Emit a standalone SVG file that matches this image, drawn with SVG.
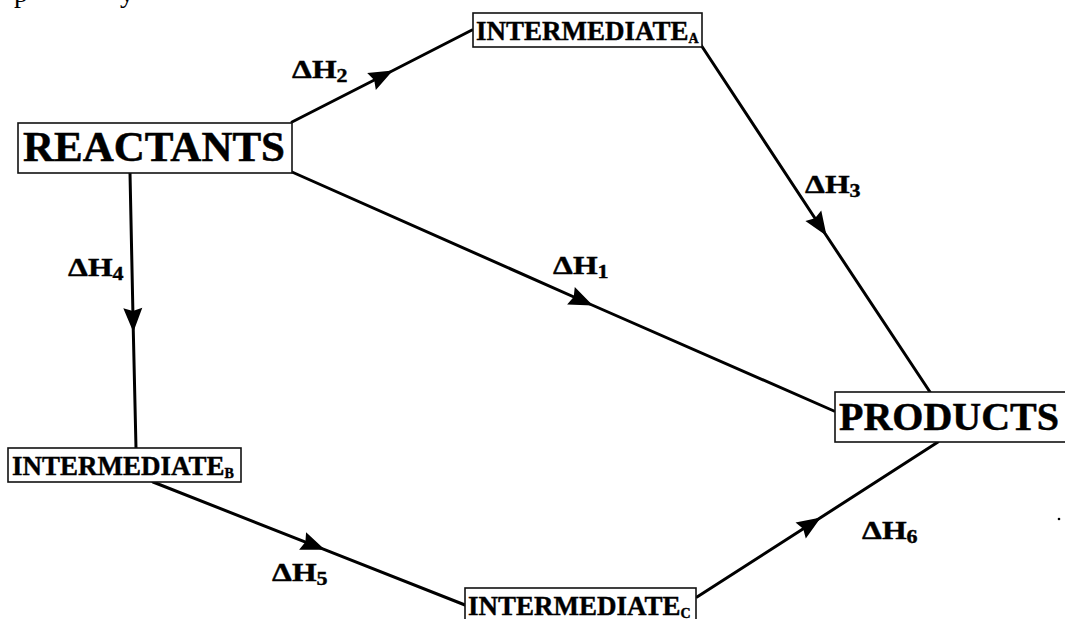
<svg xmlns="http://www.w3.org/2000/svg" width="1065" height="619" viewBox="0 0 1065 619">
  <style>
    .box { fill: #ffffff; stroke: #111111; stroke-width: 1.6; }
    .big { font-family: "Liberation Serif", "Times New Roman", serif; font-weight: bold; font-size: 43px; fill: #000000; stroke: #000000; stroke-width: 0.5; }
    .mid { font-family: "Liberation Serif", "Times New Roman", serif; font-weight: bold; font-size: 27px; fill: #000000; stroke: #000000; stroke-width: 0.4; }
    .sub { font-size: 14px; }
    .dh { font-family: "Liberation Serif", "Times New Roman", serif; font-weight: bold; font-size: 26px; fill: #000000; stroke: #000000; stroke-width: 0.4; }
    .dhsub { font-size: 18px; }
    .frag { font-family: "Liberation Serif", "Times New Roman", serif; font-size: 28px; fill: #000000; }
    .edge { fill: none; stroke: #000000; stroke-width: 3; stroke-linecap: round; marker-mid: url(#head); }
  </style>
  <defs>
    <marker id="head" markerUnits="userSpaceOnUse" viewBox="-25 -11 27 22" refX="0" refY="0" markerWidth="27" markerHeight="22" orient="auto">
      <path d="M1,0 L-23,-9.5 L-20,0 L-23,9.5 Z" fill="#000000"/>
    </marker>
  </defs>

  <rect width="1065" height="619" fill="#ffffff"/>

  <!-- descenders of the cut-off line at the top edge -->
  <text class="frag" x="14" y="2">p</text>
  <text class="frag" x="120" y="2">y</text>
  <circle cx="1059" cy="519" r="1.3" fill="#000000"/>

  <!-- connectors: each path runs through its arrowhead tip -->
  <g id="connectors">
    <path id="e-dh2" class="edge" d="M292,122 L392,71 L472,30"/>
    <path id="e-dh3" class="edge" d="M701,45 L826,235 L930,392"/>
    <path id="e-dh1" class="edge" d="M292,172 L592,305 L834,411"/>
    <path id="e-dh4" class="edge" d="M130,173 L133.3,331 L136,448"/>
    <path id="e-dh5" class="edge" d="M153,482 L324,549.4 L465,605"/>
    <path id="e-dh6" class="edge" d="M697,597 L820,518 L938,442"/>
  </g>

  <!-- enthalpy labels, widened horizontally -->
  <g id="labels">
    <text class="dh" transform="translate(292,78) scale(1.22,1)">ΔH<tspan class="dhsub" dy="4">2</tspan></text>
    <text class="dh" transform="translate(805,193) scale(1.22,1)">ΔH<tspan class="dhsub" dy="4">3</tspan></text>
    <text class="dh" transform="translate(553,274) scale(1.22,1)">ΔH<tspan class="dhsub" dy="4">1</tspan></text>
    <text class="dh" transform="translate(68,276) scale(1.22,1)">ΔH<tspan class="dhsub" dy="4">4</tspan></text>
    <text class="dh" transform="translate(272,581) scale(1.22,1)">ΔH<tspan class="dhsub" dy="4">5</tspan></text>
    <text class="dh" transform="translate(862,539) scale(1.22,1)">ΔH<tspan class="dhsub" dy="4">6</tspan></text>
  </g>

  <g id="reactants">
    <rect class="box" x="18" y="123" width="274" height="50"/>
    <text class="big" x="23" y="161">REACTANTS</text>
  </g>

  <g id="intermediate-a">
    <rect class="box" x="473" y="13" width="229" height="34"/>
    <text class="mid" x="476" y="40">INTERMEDIATE<tspan class="sub" dy="3">A</tspan></text>
  </g>

  <g id="intermediate-b">
    <rect class="box" x="8" y="448" width="233" height="34"/>
    <text class="mid" x="12" y="475">INTERMEDIATE<tspan class="sub" dy="3">B</tspan></text>
  </g>

  <g id="intermediate-c">
    <rect class="box" x="465" y="588" width="231" height="40"/>
    <text class="mid" x="468" y="615">INTERMEDIATE<tspan class="sub" dy="3">C</tspan></text>
  </g>

  <g id="products">
    <rect class="box" x="835" y="392" width="240" height="50"/>
    <text class="big" x="839" y="430" style="font-size:40px">PRODUCTS</text>
  </g>
</svg>
